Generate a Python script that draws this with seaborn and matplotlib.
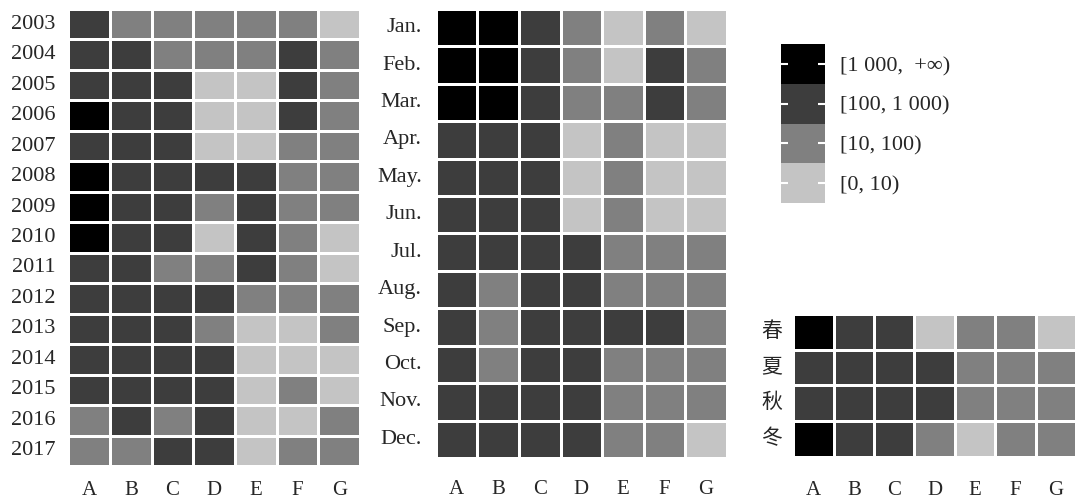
'''Graded heatmaps: yearly, monthly and seasonal levels for stations A-G'''
import numpy as np
import pandas as pd
import seaborn as sns
import matplotlib.pyplot as plt
from matplotlib.colors import ListedColormap

sns.set_theme(style='white')
plt.rcParams['font.family'] = ['Liberation Serif', 'Noto Sans CJK SC', 'DejaVu Sans']

# Level codes: 0 = [0,10), 1 = [10,100), 2 = [100,1 000), 3 = [1 000,+inf)
stations = ['A', 'B', 'C', 'D', 'E', 'F', 'G']
years = [str(y) for y in range(2003, 2018)]
months = ['Jan.', 'Feb.', 'Mar.', 'Apr.', 'May.', 'Jun.',
          'Jul.', 'Aug.', 'Sep.', 'Oct.', 'Nov.', 'Dec.']
seasons = ['春', '夏', '秋', '冬']
level_labels = ['[0, 10)', '[10, 100)', '[100, 1 000)', '[1 000,  +∞)']

yearly_levels = [
    [2, 1, 1, 1, 1, 1, 0],
    [2, 2, 1, 1, 1, 2, 1],
    [2, 2, 2, 0, 0, 2, 1],
    [3, 2, 2, 0, 0, 2, 1],
    [2, 2, 2, 0, 0, 1, 1],
    [3, 2, 2, 2, 2, 1, 1],
    [3, 2, 2, 1, 2, 1, 1],
    [3, 2, 2, 0, 2, 1, 0],
    [2, 2, 1, 1, 2, 1, 0],
    [2, 2, 2, 2, 1, 1, 1],
    [2, 2, 2, 1, 0, 0, 1],
    [2, 2, 2, 2, 0, 0, 0],
    [2, 2, 2, 2, 0, 1, 0],
    [1, 2, 1, 2, 0, 0, 1],
    [1, 1, 2, 2, 0, 1, 1],
]
monthly_levels = [
    [3, 3, 2, 1, 0, 1, 0],
    [3, 3, 2, 1, 0, 2, 1],
    [3, 3, 2, 1, 1, 2, 1],
    [2, 2, 2, 0, 1, 0, 0],
    [2, 2, 2, 0, 1, 0, 0],
    [2, 2, 2, 0, 1, 0, 0],
    [2, 2, 2, 2, 1, 1, 1],
    [2, 1, 2, 2, 1, 1, 1],
    [2, 1, 2, 2, 2, 2, 1],
    [2, 1, 2, 2, 1, 1, 1],
    [2, 2, 2, 2, 1, 1, 1],
    [2, 2, 2, 2, 1, 1, 0],
]
seasonal_levels = [
    [3, 2, 2, 0, 1, 1, 0],
    [2, 2, 2, 2, 1, 1, 1],
    [2, 2, 2, 2, 1, 1, 1],
    [3, 2, 2, 1, 0, 1, 1],
]

cmap = ListedColormap(['#c4c4c4', '#808080', '#3d3d3d', '#000000'])

fig = plt.figure(figsize=(10.76, 5.03), dpi=100)
ax_year = fig.add_axes([0.0635, 0.0736, 0.2711, 0.9085])
ax_month = fig.add_axes([0.4049, 0.0895, 0.2707, 0.8926])
ax_cbar = fig.add_axes([0.7256, 0.5964, 0.0409, 0.3161])
ax_season = fig.add_axes([0.7373, 0.0915, 0.2627, 0.2843])

# (axes, data, row labels, x pad, y pad, y size)
panels = [
    (ax_year, yearly_levels, years, 11, 9, 16),
    (ax_month, monthly_levels, months, 16, 10, 16),
    (ax_season, seasonal_levels, seasons, 17, 8, 15),
]
for i, (ax, levels, rows, xpad, ypad, ysize) in enumerate(panels):
    df = pd.DataFrame(levels, index=rows, columns=stations)
    sns.heatmap(
        df, ax=ax, cmap=cmap, vmin=-0.5, vmax=3.5,
        linewidths=2, linecolor='white',
        cbar=(i == 0), cbar_ax=ax_cbar if i == 0 else None,
    )
    ax.set_xlabel('')
    ax.set_ylabel('')
    ax.tick_params(axis='x', length=0, pad=xpad, labelsize=15)
    ax.tick_params(axis='y', length=0, pad=ypad, labelsize=ysize, rotation=0)

# Discrete legend bar
cbar = ax_year.collections[0].colorbar
cbar.set_ticks([0, 1, 2, 3])
cbar.set_ticklabels(level_labels)
cbar.outline.set_visible(False)
cbar.ax.set_axisbelow(False)
cbar.ax.minorticks_off()
cbar.ax.tick_params(which='major', direction='in', left=True, right=True,
                    color='white', length=5, width=1.5, labelsize=16, pad=11)

fig.savefig('out.png', dpi=100)
